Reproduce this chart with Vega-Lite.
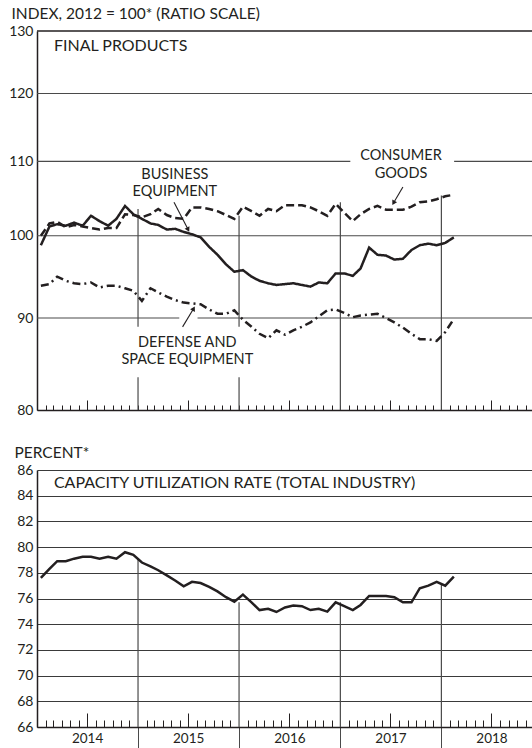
{
  "$schema": "https://vega.github.io/schema/vega-lite/v6.json",
  "padding": {"left": 8, "top": 6, "right": 0, "bottom": 0},
  "config": {
    "font": "Lato",
    "view": {"stroke": null},
    "axis": {"labelFont": "Lato", "labelFontSize": 14, "labelColor": "#231f20", "titleFont": "Lato", "titleFontSize": 15.5, "titleFontWeight": "normal", "titleColor": "#231f20", "domainColor": "#231f20", "tickColor": "#231f20", "domainWidth": 1.5, "tickWidth": 1},
    "text": {"font": "Lato", "fontSize": 16, "fill": "#231f20"}
  },
  "datasets": {
    "m": [
      {"date": "2014-01-15", "Business": 98.8, "Consumer": 100.0, "Defense": 93.8, "Capacity": 77.6},
      {"date": "2014-02-15", "Business": 101.2, "Consumer": 101.6, "Defense": 94.0, "Capacity": 78.3},
      {"date": "2014-03-15", "Business": 101.5, "Consumer": 101.8, "Defense": 94.9, "Capacity": 78.9},
      {"date": "2014-04-15", "Business": 101.3, "Consumer": 101.1, "Defense": 94.4, "Capacity": 78.9},
      {"date": "2014-05-15", "Business": 101.7, "Consumer": 101.4, "Defense": 94.1, "Capacity": 79.1},
      {"date": "2014-06-15", "Business": 101.3, "Consumer": 101.2, "Defense": 94.0, "Capacity": 79.25},
      {"date": "2014-07-15", "Business": 102.6, "Consumer": 101.0, "Defense": 94.2, "Capacity": 79.25},
      {"date": "2014-08-15", "Business": 101.9, "Consumer": 100.8, "Defense": 93.6, "Capacity": 79.1},
      {"date": "2014-09-15", "Business": 101.3, "Consumer": 101.0, "Defense": 93.8, "Capacity": 79.25},
      {"date": "2014-10-15", "Business": 102.2, "Consumer": 101.0, "Defense": 93.8, "Capacity": 79.1},
      {"date": "2014-11-15", "Business": 103.9, "Consumer": 102.8, "Defense": 93.5, "Capacity": 79.6},
      {"date": "2014-12-15", "Business": 102.8, "Consumer": 102.7, "Defense": 93.2, "Capacity": 79.4},
      {"date": "2015-01-15", "Business": 102.2, "Consumer": 102.4, "Defense": 92.0, "Capacity": 78.8},
      {"date": "2015-02-15", "Business": 101.6, "Consumer": 102.8, "Defense": 93.5, "Capacity": 78.5},
      {"date": "2015-03-15", "Business": 101.4, "Consumer": 103.5, "Defense": 93.0, "Capacity": 78.2},
      {"date": "2015-04-15", "Business": 100.8, "Consumer": 102.7, "Defense": 92.5, "Capacity": 77.8},
      {"date": "2015-05-15", "Business": 100.9, "Consumer": 102.3, "Defense": 92.1, "Capacity": 77.4},
      {"date": "2015-06-15", "Business": 100.5, "Consumer": 102.2, "Defense": 91.8, "Capacity": 76.95},
      {"date": "2015-07-15", "Business": 100.2, "Consumer": 103.7, "Defense": 91.7, "Capacity": 77.3},
      {"date": "2015-08-15", "Business": 99.8, "Consumer": 103.7, "Defense": 91.6, "Capacity": 77.2},
      {"date": "2015-09-15", "Business": 98.6, "Consumer": 103.5, "Defense": 91.0, "Capacity": 76.9},
      {"date": "2015-10-15", "Business": 97.6, "Consumer": 103.2, "Defense": 90.5, "Capacity": 76.55},
      {"date": "2015-11-15", "Business": 96.4, "Consumer": 102.7, "Defense": 90.5, "Capacity": 76.1},
      {"date": "2015-12-15", "Business": 95.5, "Consumer": 102.2, "Defense": 90.9, "Capacity": 75.75},
      {"date": "2016-01-15", "Business": 95.7, "Consumer": 103.8, "Defense": 89.8, "Capacity": 76.3},
      {"date": "2016-02-15", "Business": 94.9, "Consumer": 103.2, "Defense": 89.0, "Capacity": 75.7},
      {"date": "2016-03-15", "Business": 94.4, "Consumer": 102.6, "Defense": 88.2, "Capacity": 75.1},
      {"date": "2016-04-15", "Business": 94.1, "Consumer": 103.5, "Defense": 87.7, "Capacity": 75.2},
      {"date": "2016-05-15", "Business": 93.9, "Consumer": 103.2, "Defense": 88.6, "Capacity": 74.95},
      {"date": "2016-06-15", "Business": 94.0, "Consumer": 104.0, "Defense": 88.1, "Capacity": 75.3},
      {"date": "2016-07-15", "Business": 94.1, "Consumer": 104.0, "Defense": 88.6, "Capacity": 75.45},
      {"date": "2016-08-15", "Business": 93.9, "Consumer": 104.0, "Defense": 89.0, "Capacity": 75.4},
      {"date": "2016-09-15", "Business": 93.7, "Consumer": 103.7, "Defense": 89.5, "Capacity": 75.1},
      {"date": "2016-10-15", "Business": 94.2, "Consumer": 103.2, "Defense": 90.2, "Capacity": 75.2},
      {"date": "2016-11-15", "Business": 94.1, "Consumer": 102.6, "Defense": 90.9, "Capacity": 74.98},
      {"date": "2016-12-15", "Business": 95.3, "Consumer": 104.2, "Defense": 91.0, "Capacity": 75.7},
      {"date": "2017-01-15", "Business": 95.3, "Consumer": 103.0, "Defense": 90.6, "Capacity": 75.4},
      {"date": "2017-02-15", "Business": 95.0, "Consumer": 101.9, "Defense": 90.1, "Capacity": 75.1},
      {"date": "2017-03-15", "Business": 95.9, "Consumer": 102.8, "Defense": 90.3, "Capacity": 75.5},
      {"date": "2017-04-15", "Business": 98.5, "Consumer": 103.5, "Defense": 90.4, "Capacity": 76.2},
      {"date": "2017-05-15", "Business": 97.6, "Consumer": 103.9, "Defense": 90.5, "Capacity": 76.2},
      {"date": "2017-06-15", "Business": 97.5, "Consumer": 103.4, "Defense": 90.0, "Capacity": 76.2},
      {"date": "2017-07-15", "Business": 97.0, "Consumer": 103.4, "Defense": 89.5, "Capacity": 76.1},
      {"date": "2017-08-15", "Business": 97.1, "Consumer": 103.4, "Defense": 88.9, "Capacity": 75.7},
      {"date": "2017-09-15", "Business": 98.2, "Consumer": 103.8, "Defense": 88.2, "Capacity": 75.7},
      {"date": "2017-10-15", "Business": 98.8, "Consumer": 104.4, "Defense": 87.6, "Capacity": 76.8},
      {"date": "2017-11-15", "Business": 99.0, "Consumer": 104.5, "Defense": 87.6, "Capacity": 77.0},
      {"date": "2017-12-15", "Business": 98.8, "Consumer": 104.8, "Defense": 87.4, "Capacity": 77.3},
      {"date": "2018-01-15", "Business": 99.1, "Consumer": 105.2, "Defense": 88.4, "Capacity": 77.0},
      {"date": "2018-02-15", "Business": 99.8, "Consumer": 105.4, "Defense": 89.9, "Capacity": 77.7}
    ]
  },
  "vconcat": [
    {
      "width": 496,
      "height": 379,
      "layer": [
        {
          "data": {"values": [
            {"v": 130, "d1": "2014-01-01", "d2": "2018-11-28", "w": "border"},
            {"v": 120, "d1": "2014-01-01", "d2": "2018-11-28", "w": "grid"},
            {"v": 110, "d1": "2014-01-01", "d2": "2017-02-06", "w": "grid"},
            {"v": 110, "d1": "2018-02-16", "d2": "2018-11-28", "w": "grid"},
            {"v": 100, "d1": "2014-01-01", "d2": "2018-11-28", "w": "grid"},
            {"v": 90, "d1": "2014-01-01", "d2": "2015-05-30", "w": "grid"},
            {"v": 90, "d1": "2015-08-04", "d2": "2018-11-28", "w": "grid"}
          ]},
          "mark": {"type": "rule"},
          "encoding": {
            "x": {"field": "d1", "type": "temporal",
              "scale": {"type": "utc", "nice": false, "domain": [{"year": 2014, "month": 1, "date": 1, "utc": true}, {"year": 2018, "month": 11, "date": 28, "utc": true}]},
              "axis": {"orient": "bottom", "title": null, "labels": false, "grid": false, "tickCount": {"interval": "month", "step": 1},
                "tickSize": {"condition": {"test": "utcmonth(datum.value) == 6", "value": -10}, "value": -5}}},
            "x2": {"field": "d2"},
            "y": {"field": "v", "type": "quantitative",
              "scale": {"type": "log", "domain": [80, 130], "nice": false},
              "axis": {"orient": "left", "values": [80, 90, 100, 110, 120, 130], "format": "d", "grid": false, "ticks": false, "labelPadding": 4, "labelOverlap": false,
                "title": "INDEX, 2012 = 100* (RATIO SCALE)", "titleAngle": 0, "titleAlign": "left", "titleBaseline": "middle", "titleX": -26, "titleY": -18}},
            "color": {"field": "w", "type": "nominal", "scale": {"domain": ["border", "grid"], "range": ["#231f20", "#4a4a4a"]}, "legend": null},
            "strokeWidth": {"field": "w", "type": "nominal", "scale": {"domain": ["border", "grid"], "range": [1.5, 1.1]}, "legend": null}
          }
        },
        {
          "data": {"values": [
            {"d": "2015-01-01", "v1": 80, "v2": 83.44},
            {"d": "2015-01-01", "v1": 88.99, "v2": 103.5},
            {"d": "2016-01-01", "v1": 80, "v2": 83.44},
            {"d": "2016-01-01", "v1": 88.99, "v2": 102.6},
            {"d": "2017-01-01", "v1": 80, "v2": 104.4},
            {"d": "2018-01-01", "v1": 80, "v2": 105.3}
          ]},
          "mark": {"type": "rule", "color": "#4a4a4a", "strokeWidth": 1.2},
          "encoding": {
            "x": {"field": "d", "type": "temporal"},
            "y": {"field": "v1", "type": "quantitative"},
            "y2": {"field": "v2"}
          }
        },
        {
          "data": {"name": "m"},
          "transform": [{"fold": ["Business", "Consumer", "Defense"], "as": ["series", "value"]}],
          "mark": {"type": "line", "color": "#231f20", "strokeWidth": 2.5, "strokeCap": "butt"},
          "encoding": {
            "x": {"field": "date", "type": "temporal"},
            "y": {"field": "value", "type": "quantitative"},
            "strokeDash": {"field": "series", "type": "nominal", "scale": {"domain": ["Business", "Consumer", "Defense"], "range": [[1, 0], [8, 4], [8, 4, 2, 4]]}, "legend": null}
          }
        },
        {
          "data": {"values": [
            {"d": "2014-03-03", "v": 127.5, "t": "FINAL PRODUCTS"}
          ]},
          "mark": {"type": "text", "align": "left", "baseline": "middle"},
          "encoding": {
            "x": {"field": "d", "type": "temporal"},
            "y": {"field": "v", "type": "quantitative"},
            "text": {"field": "t"}
          }
        },
        {
          "data": {"values": [
            {"d": "2015-05-14", "v": 108.1, "t": "BUSINESS"},
            {"d": "2015-05-14", "v": 105.75, "t": "EQUIPMENT"},
            {"d": "2017-08-08", "v": 110.8, "t": "CONSUMER"},
            {"d": "2017-08-08", "v": 108.2, "t": "GOODS"},
            {"d": "2015-06-28", "v": 87.2, "t": "DEFENSE AND"},
            {"d": "2015-06-28", "v": 85.25, "t": "SPACE EQUIPMENT"}
          ]},
          "mark": {"type": "text", "align": "center", "baseline": "middle", "fontSize": 14.5},
          "encoding": {
            "x": {"field": "d", "type": "temporal"},
            "y": {"field": "v", "type": "quantitative"},
            "text": {"field": "t"}
          }
        },
        {
          "data": {"values": [
            {"d1": "2015-05-11", "v1": 104.4, "d2": "2015-07-01", "v2": 100.8},
            {"d1": "2017-08-15", "v1": 106.45, "d2": "2017-07-12", "v2": 104.3},
            {"d1": "2015-06-11", "v1": 88.99, "d2": "2015-07-21", "v2": 91.1}
          ]},
          "mark": {"type": "rule", "color": "#231f20", "strokeWidth": 1.1},
          "encoding": {
            "x": {"field": "d1", "type": "temporal"},
            "y": {"field": "v1", "type": "quantitative"},
            "x2": {"field": "d2"},
            "y2": {"field": "v2"}
          }
        },
        {
          "data": {"values": [
            {"d": "2015-07-01", "v": 100.8, "a": 153},
            {"d": "2017-07-12", "v": 104.3, "a": 210},
            {"d": "2015-07-21", "v": 91.1, "a": 29}
          ]},
          "mark": {"type": "point", "shape": "triangle-up", "filled": true, "color": "#231f20", "size": 30, "opacity": 1},
          "encoding": {
            "x": {"field": "d", "type": "temporal"},
            "y": {"field": "v", "type": "quantitative"},
            "angle": {"field": "a", "type": "quantitative", "scale": null}
          }
        }
      ]
    },
    {
      "width": 496,
      "height": 257,
      "encoding": {
        "y": {"type": "quantitative",
          "scale": {"domain": [66, 86], "nice": false, "zero": false},
          "axis": {"orient": "left", "values": [66, 68, 70, 72, 74, 76, 78, 80, 82, 84, 86], "grid": true, "gridColor": "#3a3a3a", "gridWidth": 1.2, "ticks": false, "labelPadding": 4, "labelOverlap": false,
            "title": "PERCENT*", "titleAngle": 0, "titleAlign": "left", "titleBaseline": "middle", "titleX": -23, "titleY": -18}}
      },
      "layer": [
        {
          "data": {"values": [
            {"d": "2015-01-01", "v1": 66, "v2": 79.1},
            {"d": "2016-01-01", "v1": 66, "v2": 75.7},
            {"d": "2017-01-01", "v1": 66, "v2": 75.7},
            {"d": "2018-01-01", "v1": 66, "v2": 77.15}
          ]},
          "mark": {"type": "rule", "color": "#4a4a4a", "strokeWidth": 1.2},
          "encoding": {
            "x": {"field": "d", "type": "temporal",
              "scale": {"type": "utc", "nice": false, "domain": [{"year": 2014, "month": 1, "date": 1, "utc": true}, {"year": 2018, "month": 11, "date": 28, "utc": true}]},
              "axis": {"orient": "bottom", "title": null, "grid": false, "tickCount": {"interval": "month", "step": 1},
                "tickSize": {"condition": [{"test": "utcmonth(datum.value) == 0 && utcyear(datum.value) > 2014", "value": 21}, {"test": "utcmonth(datum.value) == 6", "value": -14}], "value": -7},
                "tickColor": {"condition": {"test": "utcmonth(datum.value) == 0", "value": "#4a4a4a"}, "value": "#231f20"},
                "labelExpr": "utcmonth(datum.value) == 6 ? utcFormat(datum.value, '%Y') : ''",
                "labelFontSize": 13.5,
                "labelOverlap": false, "labelFlush": false, "labelBound": false, "labelPadding": 18}},
            "y": {"field": "v1"},
            "y2": {"field": "v2"}
          }
        },
        {
          "data": {"name": "m"},
          "mark": {"type": "line", "color": "#231f20", "strokeWidth": 2.5},
          "encoding": {
            "x": {"field": "date", "type": "temporal"},
            "y": {"field": "Capacity"}
          }
        },
        {
          "data": {"values": [
            {"d": "2014-03-03", "v": 84.98, "t": "CAPACITY UTILIZATION RATE (TOTAL INDUSTRY)"}
          ]},
          "mark": {"type": "text", "align": "left", "baseline": "middle"},
          "encoding": {
            "x": {"field": "d", "type": "temporal"},
            "y": {"field": "v"},
            "text": {"field": "t"}
          }
        }
      ]
    }
  ],
  "spacing": 60,
  "bounds": "flush"
}
